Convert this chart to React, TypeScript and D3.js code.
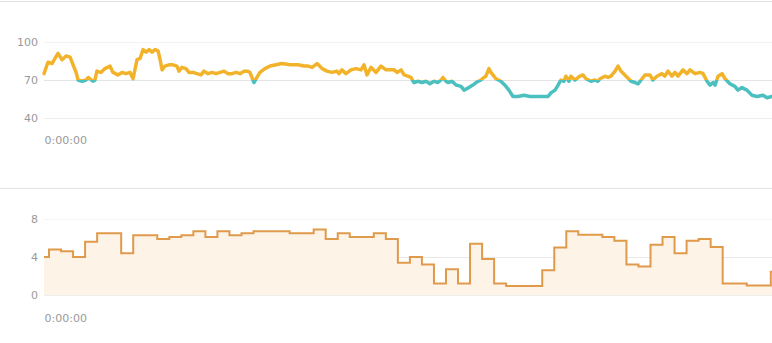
import React, { useEffect, useRef } from "react";
import * as d3 from "d3";

// Heart rate samples: elapsed seconds and beats per minute
const hrTimes = [
  0, 20, 40, 55, 70, 90, 110, 130, 145, 160, 170, 190, 210, 220, 229, 244, 254, 264, 284, 304,
  329, 344, 369, 389, 409, 429, 444, 464, 479, 494, 509, 524, 539, 554, 569, 579, 589, 603, 623, 643,
  663, 673, 688, 708, 723, 743, 763, 783, 798, 818, 838, 858, 878, 898, 918, 938, 958, 978, 998, 1017,
  1027, 1037, 1047, 1062, 1077, 1102, 1127, 1157, 1187, 1227, 1267, 1297, 1317, 1337, 1362, 1387, 1411, 1436, 1461, 1471,
  1486, 1506, 1531, 1556, 1581, 1596, 1611, 1631, 1656, 1681, 1706, 1726, 1746, 1761, 1781, 1796, 1815, 1830, 1845, 1865,
  1885, 1905, 1925, 1945, 1965, 1980, 1990, 2005, 2015, 2035, 2055, 2080, 2095, 2119, 2139, 2155, 2179, 2194, 2204, 2219,
  2229, 2239, 2254, 2279, 2304, 2319, 2339, 2364, 2394, 2424, 2454, 2484, 2514, 2529, 2549, 2564, 2578, 2593, 2603, 2618,
  2628, 2648, 2673, 2688, 2703, 2728, 2748, 2763, 2773, 2798, 2813, 2828, 2848, 2863, 2878, 2903, 2928, 2948, 2963, 2978,
  2998, 3022, 3037, 3057, 3082, 3097, 3112, 3132, 3147, 3162, 3187, 3207, 3222, 3247, 3272, 3287, 3307, 3322, 3337, 3347,
  3362, 3382, 3397, 3421, 3446, 3461, 3481, 3506, 3531, 3556, 3586, 3606, 3631,
];
const hrValues = [
  75, 84, 83, 87, 91, 86, 89, 88, 82, 76, 70, 69, 70, 72, 71, 69, 70, 77, 76, 79,
  81, 76, 74, 76, 75, 76, 71, 86, 87, 94, 92, 94, 92, 94, 93, 86, 78, 81, 82, 82,
  81, 77, 80, 79, 76, 76, 75, 74, 77, 75, 76, 75, 76, 77, 75, 75, 76, 75, 77, 77,
  76, 72, 68, 72, 76, 79, 81, 82, 83, 82, 82, 81, 81, 80, 83, 79, 77, 76, 77, 75,
  78, 75, 78, 79, 78, 82, 74, 80, 76, 81, 78, 78, 78, 76, 78, 74, 73, 72, 68, 69,
  68, 69, 67, 69, 68, 70, 72, 69, 68, 69, 66, 65, 62, 64, 66, 68, 70, 72, 73, 79,
  76, 74, 71, 69, 65, 62, 57, 57, 58, 57, 57, 57, 57, 60, 62, 66, 70, 69, 73, 69,
  73, 70, 73, 74, 71, 69, 70, 69, 71, 73, 72, 73, 77, 81, 77, 73, 69, 68, 67, 70,
  74, 74, 70, 73, 75, 73, 77, 73, 76, 73, 78, 75, 78, 75, 76, 75, 69, 66, 68, 66,
  73, 75, 71, 67, 65, 62, 64, 62, 58, 57, 58, 56, 57,
];

// Per-minute values for the lower panel (first partial minute, then full minutes)
const minuteValues = [
  4.0, 4.8, 4.6, 4.0, 5.6, 6.5, 6.5, 4.4, 6.3, 6.3, 5.9, 6.1, 6.3, 6.7, 6.1, 6.7, 6.3, 6.5, 6.7, 6.7,
  6.7, 6.5, 6.5, 6.9, 5.9, 6.5, 6.1, 6.1, 6.5, 5.9, 3.4, 4.0, 3.2, 1.2, 2.7, 1.2, 5.4, 3.8, 1.2, 0.95,
  0.95, 0.95, 2.6, 5.0, 6.7, 6.35, 6.35, 6.1, 5.7, 3.2, 3.0, 5.3, 6.1, 4.4, 5.7, 5.9, 5.05, 1.2, 1.2, 1.0,
  1.0, 2.45,
];
const minuteStarts = [
  0, 25, 85, 145, 205, 265, 325, 385, 445, 505, 565, 625, 685, 745, 805, 865, 925, 985, 1045, 1105,
  1165, 1225, 1285, 1345, 1405, 1465, 1525, 1585, 1645, 1705, 1765, 1825, 1885, 1945, 2005, 2065, 2125, 2185, 2245, 2305,
  2365, 2425, 2485, 2545, 2605, 2665, 2725, 2785, 2845, 2905, 2965, 3025, 3085, 3145, 3205, 3265, 3325, 3385, 3445, 3505,
  3565, 3625,
];
const endTime = 3631;

const topTicks = [40, 70, 100];
const bottomTicks = [0, 4, 8];
const threshold = 70;

const W = 772;
const H = 343;

const formatElapsed = (s: number) => {
  const h = Math.floor(s / 3600);
  const m = Math.floor((s % 3600) / 60);
  const sec = Math.floor(s % 60);
  return `${h}:${String(m).padStart(2, "0")}:${String(sec).padStart(2, "0")}`;
};

export default function App() {
  const ref = useRef<SVGSVGElement | null>(null);

  useEffect(() => {
    const svg = d3.select(ref.current);
    svg.selectAll("*").remove();
    const font = "DejaVu Sans, sans-serif";

    const x = d3.scaleLinear().domain([0, endTime]).range([44, 772]);

    // Panel borders
    svg.append("line").attr("x1", 0).attr("x2", W).attr("y1", 1.5).attr("y2", 1.5)
      .attr("stroke", "#e2e2e2").attr("stroke-width", 1);
    svg.append("line").attr("x1", 0).attr("x2", W).attr("y1", 188.5).attr("y2", 188.5)
      .attr("stroke", "#e2e2e2").attr("stroke-width", 1);

    // ---- Upper panel: heart rate ----
    const yTop = d3.scaleLinear().domain([40, 100]).range([118, 42]);
    const top = svg.append("g");
    const topGridColor: Record<number, string> = { 100: "#f3f3f3", 70: "#e4e4e4", 40: "#ececec" };
    topTicks.forEach((t) => {
      top.append("line").attr("x1", 44).attr("x2", W)
        .attr("y1", Math.round(yTop(t)) + 0.5).attr("y2", Math.round(yTop(t)) + 0.5)
        .attr("stroke", topGridColor[t]).attr("stroke-width", 1);
      top.append("text").attr("x", 38).attr("y", yTop(t)).attr("dy", "0.35em")
        .attr("text-anchor", "end").attr("font-family", font).attr("font-size", 11)
        .attr("fill", "#999").text(String(t));
    });

    const defs = svg.append("defs");
    const grad = defs.append("linearGradient").attr("id", "hrGrad")
      .attr("gradientUnits", "userSpaceOnUse")
      .attr("x1", 0).attr("x2", 0).attr("y1", yTop(100)).attr("y2", yTop(40));
    const off = (yTop(threshold) - yTop(100)) / (yTop(40) - yTop(100));
    grad.append("stop").attr("offset", off).attr("stop-color", "#f2b32a");
    grad.append("stop").attr("offset", off).attr("stop-color", "#4cbfbf");

    const hrData = hrTimes.map((t, i) => [t, hrValues[i]] as [number, number]);
    const hrLine = d3.line<[number, number]>().x((d) => x(d[0])).y((d) => yTop(d[1]));
    top.append("path").attr("d", hrLine(hrData) ?? "").attr("fill", "none")
      .attr("stroke", "url(#hrGrad)").attr("stroke-width", 3.5)
      .attr("stroke-linejoin", "round").attr("stroke-linecap", "round");

    const topAxis = top.append("g").attr("transform", "translate(0,132)")
      .call(d3.axisBottom(x).tickValues([0]).tickSize(0).tickFormat((d) => formatElapsed(+d)));
    topAxis.select(".domain").remove();
    topAxis.selectAll("text").attr("text-anchor", "start").attr("font-family", font)
      .attr("font-size", 11).attr("fill", "#999").attr("dy", "0.71em").attr("y", 4);

    // ---- Lower panel: per-minute step area ----
    const yBot = d3.scaleLinear().domain([0, 8]).range([295, 219]);
    const bot = svg.append("g");
    const botGridColor: Record<number, string> = { 8: "#f5f5f5", 4: "#e8e8e8", 0: "#eeeeee" };
    bottomTicks.forEach((t) => {
      bot.append("line").attr("x1", 44).attr("x2", W)
        .attr("y1", Math.round(yBot(t)) + 0.5).attr("y2", Math.round(yBot(t)) + 0.5)
        .attr("stroke", botGridColor[t]).attr("stroke-width", 1);
      bot.append("text").attr("x", 38).attr("y", yBot(t)).attr("dy", "0.35em")
        .attr("text-anchor", "end").attr("font-family", font).attr("font-size", 11)
        .attr("fill", "#999").text(String(t));
    });

    const stepData = minuteStarts.map((t, i) => [t, minuteValues[i]] as [number, number]);
    stepData.push([endTime, minuteValues[minuteValues.length - 1]]);
    const area = d3.area<[number, number]>().curve(d3.curveStepAfter)
      .x((d) => x(d[0])).y0(yBot(0)).y1((d) => yBot(d[1]));
    bot.append("path").attr("d", area(stepData) ?? "").attr("fill", "#fdf3e7");
    const stepLine = d3.line<[number, number]>().curve(d3.curveStepAfter)
      .x((d) => x(d[0])).y((d) => yBot(d[1]));
    bot.append("path").attr("d", stepLine(stepData) ?? "").attr("fill", "none")
      .attr("stroke", "#e09a4c").attr("stroke-width", 2);

    const botAxis = bot.append("g").attr("transform", "translate(0,310)")
      .call(d3.axisBottom(x).tickValues([0]).tickSize(0).tickFormat((d) => formatElapsed(+d)));
    botAxis.select(".domain").remove();
    botAxis.selectAll("text").attr("text-anchor", "start").attr("font-family", font)
      .attr("font-size", 11).attr("fill", "#999").attr("dy", "0.71em").attr("y", 4);
  }, []);

  return (
    <svg
      ref={ref}
      width={W}
      height={H}
      style={{ position: "absolute", left: 0, top: 0, display: "block", background: "#fff" }}
    />
  );
}
